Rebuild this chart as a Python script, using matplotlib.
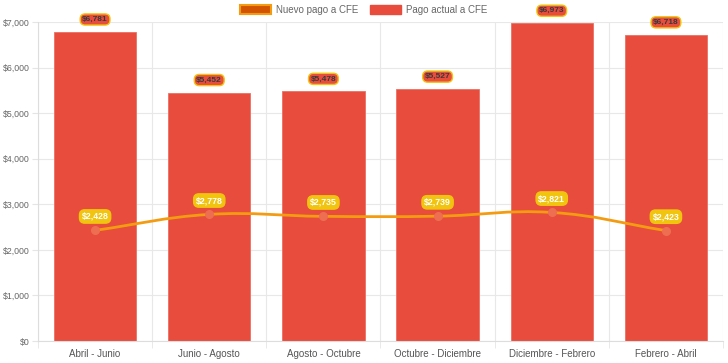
import numpy as np
import matplotlib
matplotlib.use('Agg')
import matplotlib.pyplot as plt
from matplotlib.path import Path
from matplotlib.patches import PathPatch, Patch

periodos = ['Abril - Junio', 'Junio - Agosto', 'Agosto - Octubre',
            'Octubre - Diciembre', 'Diciembre - Febrero', 'Febrero - Abril']
pago_actual = [6781, 5452, 5478, 5527, 6973, 6718]
nuevo_pago = [2428, 2778, 2735, 2739, 2821, 2423]
yticks = [0, 1000, 2000, 3000, 4000, 5000, 6000, 7000]

plt.rcParams['font.family'] = ['Liberation Sans', 'DejaVu Sans']

fig = plt.figure(figsize=(7.28, 3.63), dpi=100)
ax = fig.add_axes([38 / 728, 22 / 363, 685 / 728, 319 / 363])

x = np.arange(len(periodos))
ax.set_xlim(-0.5, len(periodos) - 0.5)
ax.set_ylim(0, 7000)

# bars
ax.bar(x, pago_actual, width=0.72, color='#e74c3c', edgecolor='#ec7063',
       linewidth=0.6, zorder=2)

# smooth line like chart.js (tension 0.4), computed in pixel space
pts = ax.transData.transform(np.column_stack([x, nuevo_pago]))
t = 0.4
verts = [tuple(pts[0])]
codes = [Path.MOVETO]
ctrl_prev = []
ctrl_next = []
for i in range(len(pts)):
    p0 = pts[i - 1] if i > 0 else pts[i]
    p1 = pts[i]
    p2 = pts[i + 1] if i < len(pts) - 1 else pts[i]
    d01 = np.hypot(*(p1 - p0))
    d12 = np.hypot(*(p2 - p1))
    s01 = d01 / (d01 + d12) if d01 + d12 else 0
    s12 = d12 / (d01 + d12) if d01 + d12 else 0
    ctrl_prev.append(p1 - t * s01 * (p2 - p0))
    ctrl_next.append(p1 + t * s12 * (p2 - p0))
for i in range(1, len(pts)):
    verts += [tuple(ctrl_next[i - 1]), tuple(ctrl_prev[i]), tuple(pts[i])]
    codes += [Path.CURVE4] * 3
inv = ax.transData.inverted()
curve = Path(inv.transform(np.array(verts)), codes)
ax.add_patch(PathPatch(curve, facecolor='none', edgecolor='#f39c12',
                       linewidth=2, zorder=3))
ax.plot(x, nuevo_pago, linestyle='none', marker='o', markersize=5.5,
        markerfacecolor='#ee6e52', markeredgecolor='#ee6e52', zorder=4)

# data labels
for xi, v in zip(x, pago_actual):
    ax.annotate('${:,}'.format(v), (xi, v), xytext=(0, 9), textcoords='offset points',
                ha='center', va='center', fontsize=6, fontweight='bold', color='#3a3a3a',
                bbox=dict(boxstyle='round,pad=0.25,rounding_size=0.6', fc='#e74c3c',
                          ec='#f1c40f', lw=1), zorder=6, annotation_clip=False)
for xi, v in zip(x, nuevo_pago):
    ax.annotate('${:,}'.format(v), (xi, v), xytext=(0, 10), textcoords='offset points',
                ha='center', va='center', fontsize=6.3, fontweight='bold', color='white',
                bbox=dict(boxstyle='round,pad=0.25,rounding_size=0.6', fc='#f1c40f',
                          ec='#f1c40f', lw=1), zorder=6)

# axes styling
ax.set_yticks(yticks)
ax.set_yticklabels(['${:,}'.format(v) for v in yticks])
ax.set_xticks(x)
ax.set_xticklabels(periodos)
ax.set_xticks(np.arange(len(periodos) + 1) - 0.5, minor=True)
ax.tick_params(axis='x', which='major', length=0, pad=6, labelsize=7, labelcolor='#555555')
ax.tick_params(axis='x', which='minor', length=5, color='#e5e5e5')
ax.tick_params(axis='y', length=4, color='#e5e5e5', pad=2, labelsize=6.3, labelcolor='#666666')
ax.grid(axis='y', color='#e8e8e8', linewidth=0.8, zorder=0)
ax.grid(axis='x', which='minor', color='#e8e8e8', linewidth=0.8, zorder=0)
ax.set_axisbelow(True)
for s in ['top', 'right']:
    ax.spines[s].set_visible(False)
ax.spines['left'].set_color('#dddddd')
ax.spines['bottom'].set_color('#dddddd')

handles = [Patch(facecolor='#d35400', edgecolor='#f39c12', linewidth=1.5),
           Patch(facecolor='#e74c3c', edgecolor='#e74c3c')]
fig.legend(handles, ['Nuevo pago a CFE', 'Pago actual a CFE'], loc='upper center',
           bbox_to_anchor=(0.5, 1.01), ncol=2, frameon=False, fontsize=7,
           labelcolor='#666666', handlelength=3.2, handleheight=1.0,
           handletextpad=0.5, columnspacing=1.2)

fig.savefig('out.png', dpi=100)
